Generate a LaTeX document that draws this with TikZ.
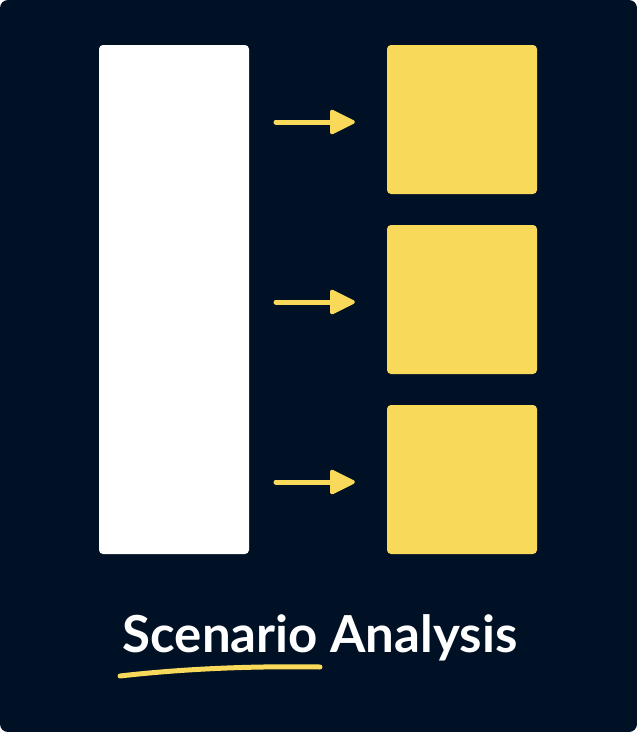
\documentclass[tikz,border=0pt]{standalone}
\usepackage{fontspec}
\setmainfont{Lato}[UprightFont=* Bold]
\definecolor{navy}{HTML}{001126}
\definecolor{sun}{HTML}{F8D95A}
\begin{document}
\begin{tikzpicture}[x=1pt,y=-1pt,
  card/.style={fill=white,rounded corners=4pt},
  ybox/.style={fill=sun,rounded corners=4pt},
  arr/.style={draw=sun,line width=5pt,line cap=round},
  tip/.style={fill=sun,draw=sun,line width=2pt,line join=round,rounded corners=2pt}]
\useasboundingbox (0,0) rectangle (637,732);
\fill[white] (0,0) rectangle (637,732);
\fill[navy,rounded corners=8pt] (0,0) rectangle (637,732);
\path[card] (99,45) rectangle (249,554);
\foreach \i/\y in {1/45,2/225,3/405}{
  \path[ybox] (387,\y) rectangle (537,\y+149);
  \coordinate (s\i) at (276,\y+77);
  \coordinate (e\i) at (333,\y+77);
  \draw[arr] (s\i) -- (e\i);
  \path[tip] (331,\y+65) -- (355,\y+77) -- (331,\y+89) -- cycle;
}
\node[anchor=base,text=white,font=\fontsize{51}{60}\selectfont,inner sep=0pt] (title) at (320,652) {Scenario Analysis};
\draw[sun,line width=5pt,line cap=round] (120,676) .. controls (190,668) and (260,666) .. (320,667);
\end{tikzpicture}
\end{document}
